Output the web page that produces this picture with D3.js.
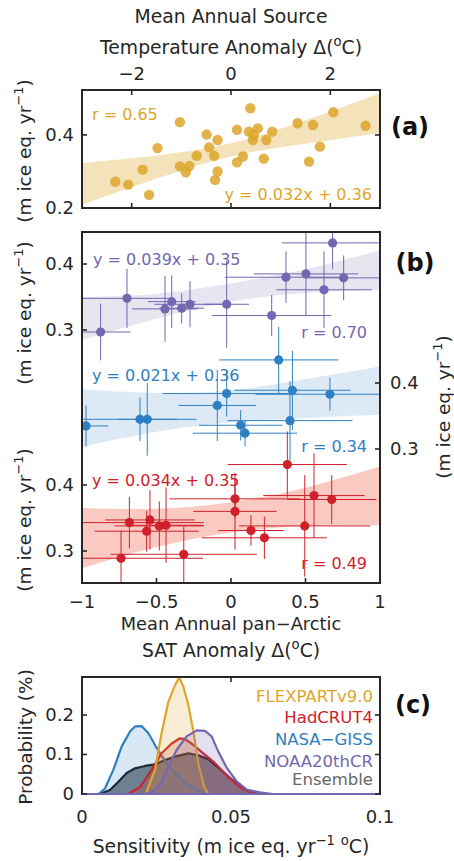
<!DOCTYPE html>
<html><head><meta charset="utf-8">
<script src="https://cdn.jsdelivr.net/npm/d3@7"></script>
<style>body{margin:0;background:#fff}svg{display:block}text{font-family:"DejaVu Sans",sans-serif;fill:#262626}</style>
</head><body>
<svg id="c" width="454" height="861"></svg>
<script>
// ---------- Panel (a) data ----------
const aX = [-2.33,-2.07,-1.78,-1.65,-1.48,-1.03,-1.03,-0.91,-0.84,-0.69,-0.49,-0.44,-0.34,-0.27,-0.32,-0.27,0.12,0.12,0.24,0.39,0.36,0.46,0.44,0.54,0.71,0.83,0.66,1.34,1.57,1.65,1.79,2.06,2.71];
const aY = [0.272,0.264,0.305,0.236,0.364,0.435,0.314,0.298,0.315,0.343,0.401,0.366,0.343,0.386,0.277,0.300,0.414,0.325,0.341,0.473,0.409,0.400,0.386,0.418,0.386,0.409,0.335,0.432,0.327,0.427,0.368,0.462,0.425];
const aBandX = [-3,-1.5,0,1.5,3];
const aBandLo = [0.209,0.280,0.341,0.376,0.405];
const aBandHi = [0.323,0.344,0.377,0.440,0.514];
const aXTicks = [-2,0,2];
const aYTicks = [0.2,0.4];

// ---------- Panel (b) data ----------
const pX    = [-0.875,-0.698,-0.443,-0.398,-0.331,-0.275,-0.029,0.273,0.369,0.503,0.624,0.682,0.756];
const pY    = [0.297,0.348,0.332,0.343,0.333,0.339,0.339,0.322,0.380,0.385,0.361,0.432,0.379];
const pXErr = [0.20,0.30,0.22,0.16,0.15,0.24,0.15,0.40,0.41,0.35,0.32,0.34,0.25];
const pYErr = [0.043,0.045,0.05,0.04,0.023,0.035,0.066,0.031,0.039,0.063,0.058,0.04,0.034];
const bX    = [-0.973,-0.611,-0.562,-0.092,-0.029,0.065,0.094,0.320,0.396,0.412,0.664];
const bY    = [0.335,0.345,0.345,0.366,0.384,0.336,0.324,0.435,0.343,0.389,0.383];
const bXErr = [0.15,0.38,0.20,0.26,0.43,0.28,0.35,0.40,0.42,0.39,0.50];
const bYErr = [0.031,0.033,0.055,0.054,0.035,0.023,0.02,0.05,0.06,0.06,0.025];
const rX    = [-0.738,-0.682,-0.566,-0.544,-0.481,-0.436,-0.317,0.027,0.027,0.134,0.224,0.378,0.495,0.557,0.676];
const rY    = [0.289,0.343,0.330,0.347,0.338,0.339,0.295,0.379,0.360,0.331,0.320,0.431,0.338,0.384,0.378];
const rXErr = [0.55,0.50,0.35,0.30,0.30,0.25,0.49,0.44,0.28,0.22,0.42,0.40,0.44,0.34,0.30];
const rYErr = [0.042,0.039,0.031,0.045,0.037,0.057,0.042,0.03,0.058,0.023,0.032,0.05,0.077,0.064,0.037];
const bandXb = [-1,-0.5,0,0.5,1];
const pBandLo = [0.285,0.317,0.343,0.356,0.361];
const pBandHi = [0.350,0.355,0.371,0.392,0.421];
const bBandLo = [0.303,0.326,0.340,0.347,0.352];
const bBandHi = [0.390,0.385,0.389,0.406,0.425];
const rBandLo = [0.274,0.306,0.328,0.338,0.339];
const rBandHi = [0.365,0.364,0.374,0.396,0.428];
const bXTicks = [-1,-0.5,0,0.5,1];
const bYTicks = [0.3,0.4];

// ---------- Panel (c) data ----------
const ensX = [0,0.0058,0.0094,0.0122,0.015,0.0178,0.0211,0.0245,0.0279,0.0318,0.0357,0.039,0.0424,0.0457,0.0491,0.0525,0.0558,0.059,0.1];
const ensY = [0,0,0.01,0.031,0.053,0.065,0.071,0.075,0.086,0.096,0.103,0.098,0.088,0.067,0.044,0.023,0.008,0,0];
const gisX = [0,0.0055,0.0077,0.0105,0.0133,0.0161,0.0178,0.02,0.0223,0.0251,0.0284,0.0318,0.0351,0.0385,0.0419,0.1];
const gisY = [0,0,0.014,0.061,0.12,0.158,0.171,0.172,0.154,0.116,0.078,0.048,0.025,0.01,0,0];
const hadX = [0,0.0155,0.0195,0.0234,0.0267,0.0301,0.0329,0.0346,0.0374,0.0407,0.0441,0.0474,0.0508,0.0541,0.0575,0.059,0.1];
const hadY = [0,0,0.018,0.061,0.103,0.128,0.141,0.139,0.124,0.103,0.082,0.056,0.031,0.012,0.003,0,0];
const flxX = [0,0.0214,0.0245,0.0267,0.029,0.031,0.0326,0.034,0.0357,0.0374,0.039,0.041,0.0424,0.1];
const flxY = [0,0,0.061,0.154,0.234,0.272,0.295,0.272,0.225,0.158,0.078,0.018,0,0];
const noaX = [0,0.021,0.0234,0.0262,0.029,0.0318,0.0351,0.0385,0.0413,0.0435,0.0457,0.0486,0.0519,0.0553,0.0597,0.064,0.1];
const noaY = [0,0,0.004,0.023,0.07,0.112,0.146,0.161,0.16,0.146,0.108,0.066,0.032,0.011,0.004,0,0];
const cXTicks = [0,0.05,0.1];
const cYTicks = [0,0.1,0.2];
const legendNames = ["FLEXPARTv9.0","HadCRUT4","NASA\u2212GISS","NOAA20thCR","Ensemble"];

// ---------- colours ----------
const GOLD="#DDA62A", RED="#D0202A", BLUE="#2F80C2", PURP="#7466B0", GRAY="#666666", AX="#262626";

const svg = d3.select("#c");
const L=82, R=380;
const FS=18, TS=18.8;

function rich(t, parts, size){
  let up=false;
  parts.forEach(p=>{
    if(typeof p==="string"){ t.append("tspan").attr("dy", up? size*0.42:0).text(p); up=false; }
    else { t.append("tspan").attr("font-size", size*0.7).attr("dy", up?0:-size*0.42).text(p.s); up=true; }
  });
}
function ylabel(x,y,parts,size){
  const t=svg.append("text").attr("transform",`translate(${x},${y}) rotate(-90)`).attr("text-anchor","middle").attr("font-size",size);
  rich(t,parts,size); return t;
}
const fmt = v => (v<0?"\u2212":"")+String(Math.abs(v));
const unit = ["(m ice eq. yr",{s:"\u22121"},")"];

function clip(id,y0,y1){
  svg.append("clipPath").attr("id",id).append("rect").attr("x",L).attr("y",y0).attr("width",R-L).attr("height",y1-y0);
}
function box(y0,y1){
  svg.append("rect").attr("x",L).attr("y",y0).attr("width",R-L).attr("height",y1-y0).attr("fill","none").attr("stroke",AX).attr("stroke-width",2);
}
function tick(x1,y1,x2,y2){
  svg.append("line").attr("x1",x1).attr("y1",y1).attr("x2",x2).attr("y2",y2).attr("stroke",AX).attr("stroke-width",1.6);
}

// ================= Panel (a) =================
const aT=90, aB=208;
const ax = d3.scaleLinear().domain([-3,3]).range([L,R]);
const ay = d3.scaleLinear().domain([0.2,0.523]).range([aB,aT]);
clip("ca",aT,aB);
const ga = svg.append("g").attr("clip-path","url(#ca)");
ga.append("path").datum(aBandX.map((x,i)=>[x,aBandLo[i],aBandHi[i]]))
  .attr("d", d3.area().x(d=>ax(d[0])).y0(d=>ay(d[1])).y1(d=>ay(d[2])).curve(d3.curveNatural))
  .attr("fill",GOLD).attr("fill-opacity",0.32);
ga.selectAll("circle").data(aX.map((x,i)=>[x,aY[i]])).join("circle")
  .attr("cx",d=>ax(d[0])).attr("cy",d=>ay(d[1])).attr("r",5.2).attr("fill",GOLD).attr("fill-opacity",0.85);
box(aT,aB);
aXTicks.forEach(v=>{ tick(ax(v),aT,ax(v),aT+5); tick(ax(v),aB,ax(v),aB-5);
  svg.append("text").attr("x",ax(v)).attr("y",80).attr("text-anchor","middle").attr("font-size",FS).text(fmt(v)); });
aYTicks.forEach(v=>{ tick(L,ay(v),L+5,ay(v)); tick(R,ay(v),R-5,ay(v));
  svg.append("text").attr("x",74).attr("y",ay(v)+6).attr("text-anchor","end").attr("font-size",FS).text(v.toFixed(1)); });
svg.append("text").attr("x",231).attr("y",23).attr("text-anchor","middle").attr("font-size",TS).text("Mean Annual Source");
rich(svg.append("text").attr("x",231).attr("y",54).attr("text-anchor","middle").attr("font-size",TS),
  ["Temperature Anomaly \u0394(",{s:"o"},"C)"],TS);
ylabel(31,151,unit,18.5);
svg.append("text").attr("x",92).attr("y",120).attr("font-size",16).style("fill",GOLD).text("r = 0.65");
svg.append("text").attr("x",372).attr("y",200).attr("text-anchor","end").attr("font-size",16).style("fill",GOLD).text("y = 0.032x + 0.36");
svg.append("text").attr("x",410).attr("y",135).attr("text-anchor","middle").attr("font-size",24).attr("font-weight","bold").style("fill","#111").text("(a)");

// ================= Panel (b) =================
const bT=232, bB=583;
const bx = d3.scaleLinear().domain([-1,1]).range([L,R]);
const pyS = d3.scaleLinear().domain([-0.0833,0.4485]).range([bB,bT]);
const byS = d3.scaleLinear().domain([0.0970,0.6288]).range([bB,bT]);
const ryS = d3.scaleLinear().domain([0.2515,0.7833]).range([bB,bT]);
clip("cb",bT,bB);
const gb = svg.append("g").attr("clip-path","url(#cb)");
function band(lo,hi,ys,col,op){
  gb.append("path").datum(bandXb.map((x,i)=>[x,lo[i],hi[i]]))
    .attr("d", d3.area().x(d=>bx(d[0])).y0(d=>ys(d[1])).y1(d=>ys(d[2])).curve(d3.curveNatural))
    .attr("fill",col).attr("fill-opacity",op);
}
band(pBandLo,pBandHi,pyS,"#B8B6D6",0.35);
band(bBandLo,bBandHi,byS,"#9EC3E4",0.35);
band(rBandLo,rBandHi,ryS,"#F3806E",0.42);
function series(X,Y,XE,YE,ys,col){
  const g=gb.append("g");
  X.forEach((x,i)=>{
    g.append("line").attr("x1",bx(x-XE[i])).attr("x2",bx(x+XE[i])).attr("y1",ys(Y[i])).attr("y2",ys(Y[i])).attr("stroke",col).attr("stroke-width",1);
    g.append("line").attr("x1",bx(x)).attr("x2",bx(x)).attr("y1",ys(Y[i]-YE[i])).attr("y2",ys(Y[i]+YE[i])).attr("stroke",col).attr("stroke-width",1);
  });
  g.selectAll("circle").data(X.map((x,i)=>[x,Y[i]])).join("circle")
    .attr("cx",d=>bx(d[0])).attr("cy",d=>ys(d[1])).attr("r",4.6).attr("fill",col);
}
series(pX,pY,pXErr,pYErr,pyS,PURP);
series(bX,bY,bXErr,bYErr,byS,BLUE);
series(rX,rY,rXErr,rYErr,ryS,RED);
box(bT,bB);
bXTicks.forEach(v=>{ tick(bx(v),bB,bx(v),bB-5);
  svg.append("text").attr("x",bx(v)).attr("y",608).attr("text-anchor","middle").attr("font-size",FS).text(fmt(v)); });
bYTicks.forEach(v=>{
  tick(L,pyS(v),L+5,pyS(v));
  svg.append("text").attr("x",74).attr("y",pyS(v)+6).attr("text-anchor","end").attr("font-size",FS).text(v.toFixed(1));
  tick(L,ryS(v),L+5,ryS(v));
  svg.append("text").attr("x",74).attr("y",ryS(v)+6).attr("text-anchor","end").attr("font-size",FS).text(v.toFixed(1));
  tick(R,byS(v),R-5,byS(v));
  svg.append("text").attr("x",390).attr("y",byS(v)+6).attr("text-anchor","start").attr("font-size",FS).text(v.toFixed(1));
});
svg.append("text").attr("x",231).attr("y",630).attr("text-anchor","middle").attr("font-size",17.8).text("Mean Annual pan\u2212Arctic");
rich(svg.append("text").attr("x",231).attr("y",657).attr("text-anchor","middle").attr("font-size",TS),
  ["SAT Anomaly \u0394(",{s:"o"},"C)"],TS);
ylabel(31,313,unit,18.5);
ylabel(31,520,unit,18.5);
ylabel(450,407,unit,18.5);
svg.append("text").attr("x",93).attr("y",265).attr("font-size",16).style("fill",PURP).text("y = 0.039x + 0.35");
svg.append("text").attr("x",367).attr("y",338).attr("text-anchor","end").attr("font-size",16).style("fill",PURP).text("r = 0.70");
svg.append("text").attr("x",92).attr("y",381).attr("font-size",16).style("fill",BLUE).text("y = 0.021x + 0.36");
svg.append("text").attr("x",367).attr("y",452).attr("text-anchor","end").attr("font-size",16).style("fill",BLUE).text("r = 0.34");
svg.append("text").attr("x",92).attr("y",486).attr("font-size",16).style("fill",RED).text("y = 0.034x + 0.35");
svg.append("text").attr("x",367).attr("y",569).attr("text-anchor","end").attr("font-size",16).style("fill",RED).text("r = 0.49");
svg.append("text").attr("x",415).attr("y",271).attr("text-anchor","middle").attr("font-size",24).attr("font-weight","bold").style("fill","#111").text("(b)");

// ================= Panel (c) =================
const cT=677, cB=794;
const cx = d3.scaleLinear().domain([0,0.1]).range([L,R]);
const cy = d3.scaleLinear().domain([0,0.2962]).range([cB,cT]);
clip("cc",cT-2,cB+2);
const gc = svg.append("g").attr("clip-path","url(#cc)");
const curves = [
  {X:ensX,Y:ensY,col:"#1a1a1a",fill:"#1e2a30",op:0.58},
  {X:gisX,Y:gisY,col:BLUE,fill:BLUE,op:0.18},
  {X:hadX,Y:hadY,col:RED,fill:RED,op:0.2},
  {X:flxX,Y:flxY,col:GOLD,fill:GOLD,op:0.2},
  {X:noaX,Y:noaY,col:PURP,fill:PURP,op:0.2}
];
curves.forEach(c=>{
  const pts=c.X.map((x,i)=>[x,c.Y[i]]);
  gc.append("path").datum(pts).attr("d",d3.area().x(d=>cx(d[0])).y0(cB).y1(d=>cy(d[1])))
    .attr("fill",c.fill).attr("fill-opacity",c.op);
  gc.append("path").datum(pts).attr("d",d3.line().x(d=>cx(d[0])).y(d=>cy(d[1])))
    .attr("fill","none").attr("stroke",c.col).attr("stroke-width",2.2).attr("stroke-linejoin","round");
});
box(cT,cB);
svg.append("line").attr("x1",L).attr("x2",R).attr("y1",cB).attr("y2",cB).attr("stroke",PURP).attr("stroke-width",2);
cXTicks.forEach(v=>{ tick(cx(v),cT,cx(v),cT+5);
  svg.append("text").attr("x",cx(v)).attr("y",823).attr("text-anchor","middle").attr("font-size",FS).text(String(v)); });
cYTicks.forEach(v=>{ tick(L,cy(v),L+5,cy(v)); tick(R,cy(v),R-5,cy(v));
  svg.append("text").attr("x",74).attr("y",cy(v)+6).attr("text-anchor","end").attr("font-size",FS).text(String(v)); });
rich(svg.append("text").attr("x",231).attr("y",853).attr("text-anchor","middle").attr("font-size",TS),
  ["Sensitivity (m ice eq. yr",{s:"\u22121"}," ",{s:"o"},"C)"],TS);
ylabel(32,737,["Probability (%)"],18.5);
const legCols=[GOLD,RED,BLUE,PURP,GRAY];
const legY=[702,723,745,767,785];
legendNames.forEach((n,i)=>{
  svg.append("text").attr("x",373).attr("y",legY[i]).attr("text-anchor","end").attr("font-size",16.5).style("fill",legCols[i]).text(n);
});
svg.append("text").attr("x",413).attr("y",713).attr("text-anchor","middle").attr("font-size",24).attr("font-weight","bold").style("fill","#111").text("(c)");
</script>
</body></html>
